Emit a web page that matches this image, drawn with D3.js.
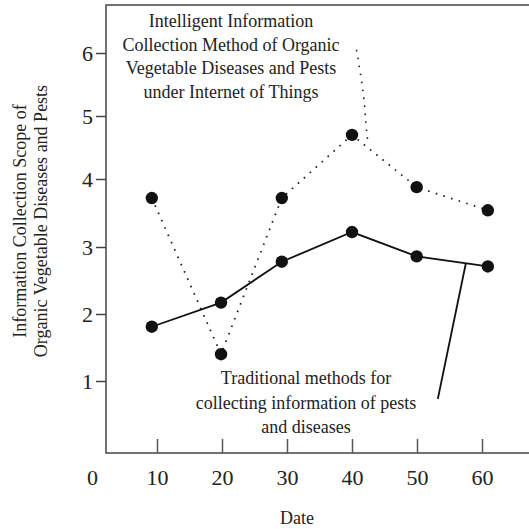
<!DOCTYPE html>
<html>
<head>
<meta charset="utf-8">
<script src="https://cdn.jsdelivr.net/npm/d3@7"></script>
<style>
    body { margin: 0; background: #fff; }
    text { font-family: "Liberation Serif", "DejaVu Serif", serif; fill: #222; }
</style>
</head>
<body>
<svg></svg>
<script>
// data
let dates = [9.2, 19.85, 29.2, 40, 49.95, 60.9];
let intelligentValues = [3.72, 1.40, 3.72, 4.70, 3.88, 3.54];
let traditionalValues = [1.81, 2.17, 2.78, 3.22, 2.86, 2.71];
let xTicks = [0, 10, 20, 30, 40, 50, 60];
let yTicks = [1, 2, 3, 4, 5, 6];
let intelligentLabel = ['Intelligent Information', 'Collection Method of Organic',
    'Vegetable Diseases and Pests', 'under Internet of Things'];
let traditionalLabel = ['Traditional methods for', 'collecting information of pests', 'and diseases'];
let yTitle = ['Information Collection Scope of', 'Organic Vegetable Diseases and Pests'];
let xTitle = 'Date';

let width = 529, height = 529;
let frameLeft = 106, frameTop = 5, frameBottom = 453;
let svg = d3.select('svg').attr('width', width).attr('height', height);

// the hand drawn y axis is not quite even, so map each tick on its own
let xScale = d3.scaleLinear().domain([0, 60]).range([92, 482]);
let yScale = d3.scaleLinear()
    .domain([0, 1, 2, 3, 4, 5, 6])
    .range([frameBottom, 381, 314, 247, 179, 116, 53]);

// frame: left, top and bottom, open on the right
svg.append('path')
    .attr('d', `M${width},${frameTop}H${frameLeft}V${frameBottom}H${width}`)
    .attr('fill', 'none')
    .attr('stroke', '#444')
    .attr('stroke-width', 1.5);

// axes
let xAxis = d3.axisBottom(xScale).tickValues(xTicks).tickFormat(d3.format('d'))
    .tickSizeInner(-14).tickSizeOuter(0).tickPadding(16);
let gx = svg.append('g').attr('transform', `translate(0,${frameBottom})`).call(xAxis);
gx.select('.domain').remove();
gx.selectAll('.tick line').attr('stroke', '#555').attr('stroke-width', 1.5)
    .filter((d) => d === 0).remove();
gx.selectAll('.tick text').attr('font-size', 22).attr('font-family', null).attr('fill', '#222');

let yAxis = d3.axisLeft(yScale).tickValues(yTicks).tickFormat(d3.format('d'))
    .tickSizeInner(10).tickSizeOuter(0).tickPadding(3);
let gy = svg.append('g').attr('transform', `translate(${frameLeft},0)`).call(yAxis);
gy.select('.domain').remove();
gy.selectAll('.tick line').attr('stroke', '#444').attr('stroke-width', 1.5);
gy.selectAll('.tick text').attr('font-size', 22).attr('font-family', null).attr('fill', '#222');

// titles
svg.append('text')
    .attr('x', 297).attr('y', 524)
    .attr('text-anchor', 'middle')
    .attr('font-size', 18)
    .text(xTitle);

svg.append('g')
    .attr('transform', 'translate(26,221) rotate(-90)')
    .selectAll('text')
    .data(yTitle)
    .enter()
    .append('text')
    .attr('x', 0)
    .attr('y', (d, i) => i * 21)
    .attr('text-anchor', 'middle')
    .attr('font-size', 18)
    .text((d) => d);

// lines
let pointsA = dates.map((d, i) => [d, intelligentValues[i]]);
let pointsB = dates.map((d, i) => [d, traditionalValues[i]]);
let line = d3.line().x((d) => xScale(d[0])).y((d) => yScale(d[1]));

svg.append('path')
    .attr('d', line(pointsA))
    .attr('fill', 'none')
    .attr('stroke', '#222')
    .attr('stroke-width', 1.8)
    .attr('stroke-dasharray', '1.6 6.4');

svg.append('path')
    .attr('d', line(pointsB))
    .attr('fill', 'none')
    .attr('stroke', '#111')
    .attr('stroke-width', 1.8);

// markers
svg.selectAll('circle')
    .data(pointsA.concat(pointsB))
    .enter()
    .append('circle')
    .attr('cx', (d) => xScale(d[0]))
    .attr('cy', (d) => yScale(d[1]))
    .attr('r', 6.2)
    .attr('fill', '#111');

// leader lines from the annotations to their curves
let leaderA = d3.line().curve(d3.curveBasis)
    .x((d) => xScale(d[0])).y((d) => yScale(d[1]));
svg.append('path')
    .attr('d', leaderA([[40.7, 6.05], [41.9, 5.3], [42.1, 4.88], [42.5, 4.54]]))
    .attr('fill', 'none')
    .attr('stroke', '#222')
    .attr('stroke-width', 1.6)
    .attr('stroke-dasharray', '1.6 6.4');

svg.append('path')
    .attr('d', line([[53.2, 0.75], [57.5, 2.75]]))
    .attr('fill', 'none')
    .attr('stroke', '#111')
    .attr('stroke-width', 1.8);

// annotations
svg.append('g')
    .selectAll('text')
    .data(intelligentLabel)
    .enter()
    .append('text')
    .attr('x', 231)
    .attr('y', (d, i) => 27 + i * 23.5)
    .attr('text-anchor', 'middle')
    .attr('font-size', 18)
    .text((d) => d);

svg.append('g')
    .selectAll('text')
    .data(traditionalLabel)
    .enter()
    .append('text')
    .attr('x', 306)
    .attr('y', (d, i) => 384 + i * 24.5)
    .attr('text-anchor', 'middle')
    .attr('font-size', 18)
    .text((d) => d);
</script>
</body>
</html>
